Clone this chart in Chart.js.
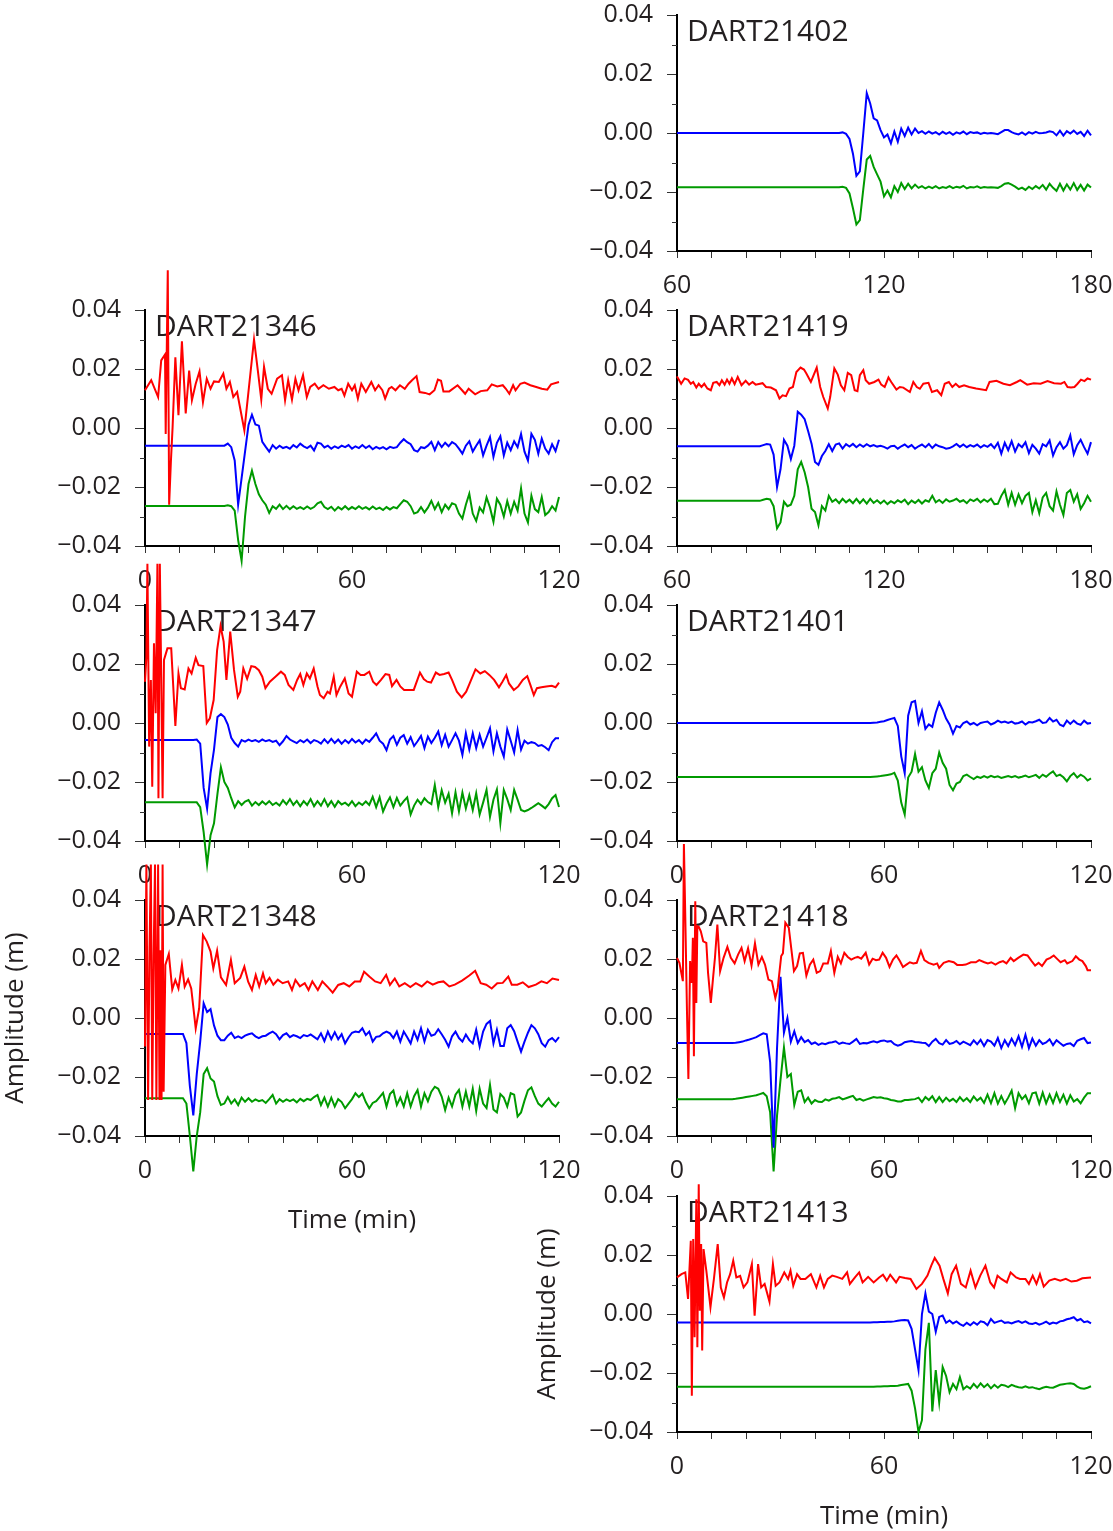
<!DOCTYPE html>
<html>
<head>
<meta charset="utf-8">
<script src="https://cdn.jsdelivr.net/npm/chart.js@4.4.1/dist/chart.umd.min.js"></script>
<style>
  body { margin: 0; background: #fff; width: 1113px; height: 1531px; position: relative; overflow: hidden; }
  canvas { position: absolute; }
</style>
</head>
<body>
<script>
// Values in mm (axis labels shown in m). Blue/green: one value per minute from the panel start.
// Red: [time (min), value] pairs.

// DART21402 (60-180 min)
const b21402 = [
  0,0,0,0,0,0,0,0,0,0, 0,0,0,0,0,0,0,0,0,0, 0,0,0,0,0,0,0,0,0,0, 0,0,0,0,0,0,0,0,0,0,
  0,0,0,0,0,0,0,0, 0.2,-0.3,
  -2,-7,-14.5,-13,0,13.5,10,5,4.3,1,
  -1.5,-0.5,-3.5,0.5,-3,1.5,-1,1.8,-0.5,1.5,
  0,0.6,-0.3,0.5,-0.2,0.3,-0.5,0.4,-0.3,0.3,
  -0.6,0.2,-0.2,0.5,-0.4,0.3,0,0.2,-0.3,0.1,
  -0.2,0,-0.2,-0.4,0.3,1,1,0.3,-0.2,-0.5,
  0.2,-0.6,0.3,-0.2,0.4,-0.1,0,0.2,0.6,0.3,
  -0.8,0.8,-0.9,0.6,-0.2,0.8,-0.3,0.4,-1,0.8,
  -0.8
];
const g21402 = [
  -18.4,-18.4,-18.4,-18.4,-18.4,-18.4,-18.4,-18.4,-18.4,-18.4,
  -18.4,-18.4,-18.4,-18.4,-18.4,-18.4,-18.4,-18.4,-18.4,-18.4,
  -18.4,-18.4,-18.4,-18.4,-18.4,-18.4,-18.4,-18.4,-18.4,-18.4,
  -18.4,-18.4,-18.4,-18.4,-18.4,-18.4,-18.4,-18.4,-18.4,-18.4,
  -18.4,-18.4,-18.4,-18.4,-18.4,-18.4,-18.4,-18.4, -18.2,-18.6,
  -20.5,-25.5,-31,-29.5,-19,-9,-7.8,-11.5,-14,-16.5,
  -21.5,-19.5,-21.8,-18,-20,-17,-19,-17.2,-18.8,-17.5,
  -18.6,-18,-18.8,-18.2,-18.7,-18,-18.8,-18.3,-18.6,-18,
  -18.7,-18.2,-18.5,-17.9,-18.8,-18.3,-18.5,-18.1,-18.6,-18.3,
  -18.5,-18.4,-18.5,-18.6,-18,-17.2,-17,-17.5,-18.2,-19,
  -18.5,-19.3,-18.2,-19,-18,-18.8,-17.6,-19.2,-17.2,-18.6,
  -19.6,-17.2,-19.5,-17.4,-19.2,-17,-19.3,-17.6,-19.5,-17.5,
  -18.5
];

// DART21346 (0-120 min)
const r21346 = [
  [0,12.8],[1.8,16.2],[3.8,10.5],[4.7,22.9],[5.8,24.9],[6,-2],[6.6,53.5],[7,-26],[7.5,-11.5],[8,0.3],
  [8.8,24],[9.7,4.3],[10.7,29.4],[11.8,4.9],[12.8,19.5],[13.6,9.4],[14.7,15],[15.8,19.2],[16.8,8.8],[17.9,16.7],
  [19,13.3],[20,15.8],[21.4,15.6],[22.7,18.4],[23.6,13.3],[24.6,15.6],[25.6,10.5],[26.7,12.2],[28.8,-0.8],[31.6,30],
  [32.7,19.5],[33.7,9.6],[34.5,20.7],[35.6,13.3],[36.7,11.6],[38.3,16.7],[39.7,17.9],[40.6,9.4],[41.5,16.2],[42.6,9.6],
  [43.6,16.7],[44.5,12.8],[45.8,17.9],[46.9,10.5],[47.9,13.9],[49.2,15],[50.3,13.3],[51.7,14.5],[53.3,13.3],[54.9,13.9],
  [56,12.8],[57,13.3],[57.8,11],[58.9,15],[60,12.8],[60.8,14.5],[61.7,10],[62.7,15],[64,12.2],[65.6,15.6],
  [66.7,12.8],[67.7,14.5],[68.8,12.8],[69.6,10],[70.7,13.3],[71.5,13.9],[72.6,12.8],[73.9,14.5],[75.3,13.3],[76.4,15],
  [77.4,16.2],[78.7,17.6],[79.6,12.2],[81.2,11.9],[82.5,11.4],[83.9,12.8],[84.9,16.4],[85.8,16],[86.5,12.4],[88.2,12.4],
  [90.6,14.5],[91.9,12.8],[92.8,11.6],[93.8,13.3],[95.7,11.4],[97.3,12.5],[99.2,12.8],[100.5,14.8],[102.1,14.1],[103.7,14.5],
  [104.6,13.3],[105.6,11.6],[106.7,14.5],[107.4,12.8],[108.8,15],[110,15.4],[111.7,14.5],[113.4,13.9],[115,13.3],[116.6,13],
  [117.7,14.8],[120,15.6]
];
const b21346 = [
  -6,-6,-6,-6,-6,-6,-6,-6,-6,-6, -6,-6,-6,-6,-6,-6,-6,-6,-6,-6, -6,-6,-6,-6,
  -5.3,-6.5,-11,-26,-17,-8,
  1,4.5,1.2,0.8,-4.7,-6.4,-8,-5.8,-7,-6,
  -6.8,-6.4,-7,-5.8,-6.6,-5.3,-6.2,-6.8,-6,-7.6,
  -5,-5.3,-6.6,-6,-7,-6.2,-6.8,-6,-6.5,-5.8,
  -7,-6.2,-6.8,-5.8,-6.8,-6,-7.2,-6.4,-7,-6.5,
  -7.2,-6.4,-6.8,-6.5,-5,-3.8,-4.8,-5.5,-7.5,-8,
  -6.5,-6.8,-6,-4.7,-7.5,-4.8,-6.5,-5,-6.2,-4.8,
  -5.5,-7,-8.7,-6,-4.5,-8,-6,-4.2,-9.3,-6,
  -3.1,-9.8,-5,-2.8,-9.3,-5,-7.5,-4.5,-6.5,-2,
  -8,-11,-2,-4,-8.7,-3.6,-7,-8.7,-5.5,-7.8,
  -4
];
const g21346 = [
  -26.4,-26.4,-26.4,-26.4,-26.4,-26.4,-26.4,-26.4,-26.4,-26.4,
  -26.4,-26.4,-26.4,-26.4,-26.4,-26.4,-26.4,-26.4,-26.4,-26.4,
  -26.4,-26.4,-26.4,-26.4,
  -26.2,-26.5,-28,-38,-45,-30,
  -19,-14.5,-19,-22.5,-24.5,-26,-28.8,-26.5,-27.4,-26,
  -27.5,-26.4,-27.5,-26.5,-27.4,-26.8,-27.5,-26.6,-27.4,-26.8,
  -25.5,-25,-26.8,-27.5,-26.7,-28,-26.8,-27.6,-26.5,-27.6,
  -26.8,-27.5,-26.5,-27.4,-26.8,-27.6,-26.6,-27.5,-27,-27.8,
  -26.8,-27.6,-26.8,-27.2,-25.8,-24.5,-25,-26.5,-29,-28.5,
  -26.8,-28.6,-27,-24.7,-27.5,-25.4,-28.5,-26,-27.5,-25.5,
  -26,-29,-30.7,-26,-22.3,-29,-31.5,-27,-28.6,-23.5,
  -27,-31.8,-24,-26,-30,-24.8,-29,-25,-28,-20.5,
  -29,-32,-23,-27.5,-28.5,-23.4,-29.5,-28.5,-26.5,-28,
  -23.4
];

// DART21419 (60-180 min)
const r21419 = [
  [60,17.5],[61.2,15],[62.2,16.8],[63.2,16.3],[64,15],[64.7,15.6],[65.6,13.7],[66.3,15],[67.1,13.9],[67.9,15],
  [68.8,13.4],[69.8,12.8],[70.5,15.3],[71.5,15.6],[72.3,14.5],[73,16.2],[73.8,14.7],[74.5,16.4],[75.2,15],[75.9,16.8],
  [76.7,14.9],[77.6,17.3],[78.7,14.5],[79.9,16],[80.9,14.7],[81.9,15.6],[82.8,14.7],[84.8,15.2],[85.8,13.9],[87.2,13.7],
  [88.7,12.8],[89.7,10],[90.6,11.1],[91.6,10.8],[92.6,13.4],[93.6,13.9],[94.6,19],[95.8,20.5],[96.8,19.8],[97.5,18.5],
  [98.8,15.6],[100.5,20.5],[101.5,13.9],[102.4,10.5],[103.7,6.6],[104.4,10.5],[105.6,20.2],[106.6,18.1],[107.5,14.5],[108.5,12.8],
  [109.5,18.7],[110.5,17.9],[111.5,12.8],[112.3,12.5],[113,17.9],[114,19.6],[114.7,16.2],[115.7,15],[117.2,15.6],[118.4,16.4],
  [119.2,14.7],[120.2,13.9],[121.3,17.1],[122.1,15.6],[123.6,13],[124.6,13.9],[125.6,13.7],[127.5,12.2],[128.5,15.6],[129.5,13.9],
  [130.4,13.3],[131.4,15],[132.9,15.3],[133.9,12.2],[135.4,12.8],[136.6,11.1],[137.6,15],[138.8,15.6],[139.8,13.9],[140.8,15],
  [141.8,13.9],[143.2,14.5],[144.7,13.9],[146.7,13.4],[149.6,12.8],[150.6,15.6],[152.6,16],[154.6,15],[156.5,14.5],[158.5,15.6],
  [159.5,16.2],[161.5,14.7],[163.4,15.2],[165.4,15],[167.4,15.9],[169.3,15.2],[171.3,15],[172.3,15.6],[173.2,13.9],[174.2,13.7],
  [175.2,13.9],[176.1,15],[177.1,16.4],[178.1,15.9],[179,16.8],[180,16.4]
];
const b21419 = [
  -6.2,-6.2,-6.2,-6.2,-6.2,-6.2,-6.2,-6.2,-6.2,-6.2,
  -6.2,-6.2,-6.2,-6.2,-6.2,-6.2,-6.2,-6.2,-6.2,-6.2,
  -6.2,-6.2,-6.2,-6.2,-6.2,
  -5.8,-5.4,-5.6,-9,-20,
  -14,-4,-6,-10.5,-6,5.5,4.5,3,-1,-5.3,
  -11.5,-12.5,-9.5,-7.8,-5.5,-7.8,-5.6,-5.2,-7,-5.5,
  -6.3,-5.4,-6.5,-5.6,-6.4,-5.5,-6.2,-5.8,-6.3,-6,
  -6.4,-7,-6.2,-6,-7,-6.2,-5.6,-6.5,-5.8,-7,
  -6.2,-5.6,-6.5,-5.4,-6.8,-5.6,-6.2,-6.5,-7,-6.8,
  -6.2,-5.4,-6.4,-5.6,-6.5,-5.8,-6.3,-5.6,-6.6,-5.8,
  -6.4,-5.5,-6.8,-5,-8.7,-5,-7.5,-4.5,-8,-5.5,
  -6.5,-4.8,-8.5,-5.7,-7,-8.7,-5.5,-6.2,-4.2,-9.3,
  -6.5,-4.8,-7,-5.8,-2.5,-8.9,-5.8,-4,-6.5,-8.7,
  -4.8
];
const g21419 = [
  -24.7,-24.7,-24.7,-24.7,-24.7,-24.7,-24.7,-24.7,-24.7,-24.7,
  -24.7,-24.7,-24.7,-24.7,-24.7,-24.7,-24.7,-24.7,-24.7,-24.7,
  -24.7,-24.7,-24.7,-24.7,-24.7,
  -24.3,-24,-24.2,-26.5,-34,
  -32,-25,-26.5,-26,-23,-14,-11.5,-15,-20,-27.4,
  -28.5,-33,-26.5,-28,-23,-25,-24.2,-25.5,-24,-25.2,
  -24.3,-25.5,-24,-25.5,-24.2,-25.6,-24,-25.4,-24.5,-25.6,
  -24.6,-25.8,-24.8,-25.5,-24.5,-25.2,-24.3,-25.8,-24.6,-25.4,
  -24.4,-25.6,-24.5,-25,-23,-25.2,-24.4,-25.4,-24.2,-25,
  -24.6,-24,-25,-24.5,-25.5,-24.2,-24.8,-24,-25.2,-24.2,
  -25,-24,-25.8,-25.7,-23,-21,-26,-22,-26,-22.5,
  -25.5,-23,-22,-28.5,-24.5,-28.9,-23.5,-22,-26.5,-28,
  -21.5,-26,-29.5,-22,-21,-25,-22.5,-27.4,-25.5,-23,
  -25
];

// DART21347 (0-120 min)
const r21347 = [
  [0,14],[0.4,22.5],[0.7,54],[1.2,-8],[1.7,14.6],[2.1,-21.6],[2.6,27],[3.1,3.3],[3.6,54],[3.9,-25.5],
  [4.3,54],[4.7,15.7],[5.1,-25.5],[5.5,21.4],[6.5,25.3],[7.6,25.3],[8.8,-1],[9.7,16.8],[10.4,11.8],[11.5,11.4],
  [12.6,18.5],[13.5,16.8],[14.7,22.1],[15.5,19.6],[16.9,19.3],[17.9,0],[18.8,1.6],[19.9,7.8],[20.9,24.7],[21.9,32.9],
  [22.8,27.6],[23.6,14.6],[24.7,31],[25.8,18],[26.9,8.9],[27.6,10.6],[28.5,18.5],[29.6,15],[30.8,19.3],[31.9,19],
  [33,17.9],[34,15.7],[34.9,11.8],[36.2,14],[37.8,15.7],[39.4,17.4],[40.5,16.3],[41.6,12.9],[43,11.2],[44.1,14.6],
  [45,16.6],[45.9,12.9],[46.9,16.8],[47.8,15.1],[48.9,18.5],[50,12.4],[50.7,9.5],[51.8,8.4],[52.9,10.6],[53.6,10],
  [54.7,15.7],[55.5,9.5],[56.6,12.4],[57.9,15.1],[59,10],[60,8.9],[61.4,17.4],[62.5,16.3],[63.6,16.3],[65,17.4],
  [66.1,14],[67.1,12.9],[68.4,14.6],[69.7,16.6],[70.8,16.3],[71.6,12.5],[72.9,14.6],[74,12.4],[75.1,11.2],[76.5,11.2],
  [77.9,11.2],[79.7,17.1],[80.8,14.9],[81.8,14],[82.9,13.7],[84.3,17.1],[85.4,16.3],[86.7,16.6],[88,17.1],[89,14.6],
  [90.4,10.6],[91.8,8.7],[93.1,10.6],[94.2,13.7],[95.8,18.2],[97.2,16.8],[98.5,17.6],[99.8,16.3],[101.2,14.6],[102.6,12.1],
  [103.6,14],[104.7,16.3],[105.5,13.4],[106.9,11.2],[108.2,12.4],[109.5,14.6],[110.8,15.9],[111.7,12.9],[112.7,9.5],[113.6,11.8],
  [114.9,12.1],[116.3,12.4],[117.9,12.6],[119,12.1],[120,13.7]
];
const b21347 = [
  -5.8,-5.8,-5.8,-5.8,-5.8,-5.8,-5.8,-5.8,-5.8,-5.8, -5.8,-5.8,-5.8,-5.8,-5.8,
  -5.6,-7,-22,-29,-17,
  -9,2,3,2,-0.5,-5,-6.8,-8,-5.8,-6.3,
  -5.6,-6.2,-5.8,-6.4,-5.6,-6.2,-5.8,-6.4,-6,-7.5,
  -6.2,-4.4,-5.6,-6.2,-6.8,-5.8,-6.5,-5.6,-6.8,-5.8,
  -6.2,-7,-5.5,-6.8,-5.4,-6.8,-5.6,-7,-5.8,-6.8,
  -5.4,-6.6,-5.8,-7,-5.6,-6.4,-5,-3.5,-6,-7,
  -9.2,-5.6,-4.4,-7.4,-5,-4.1,-7,-4.8,-7.8,-6.2,
  -4.4,-8.5,-4.6,-6.8,-5,-2.9,-7.5,-4,-8,-5.8,
  -3.5,-6,-10.8,-3.5,-9,-3.5,-8.5,-4,-8,-5,
  -1.8,-9.6,-3.5,-8,-11.4,-2.2,-6,-10,-2.4,-9,
  -6,-7,-6.5,-6.8,-7.8,-7.5,-8.2,-9.2,-6.5,-5.2,
  -5.2
];
const g21347 = [
  -26.9,-26.9,-26.9,-26.9,-26.9,-26.9,-26.9,-26.9,-26.9,-26.9,
  -26.9,-26.9,-26.9,-26.9,-26.9,-26.9,
  -28.5,-37,-48,-38,
  -34,-24,-15,-20,-22,-25.5,-28.6,-26.5,-27.8,-26.6,
  -26.1,-28,-26.8,-27.8,-26.6,-27.6,-26.5,-27.8,-27,-28,
  -26.2,-27.6,-25.8,-27.8,-26.4,-28.2,-26.5,-27.8,-25.8,-28.2,
  -26.5,-28,-25.8,-28.2,-26.5,-28.4,-26.5,-27.6,-27,-28,
  -26.5,-28.2,-27,-27.8,-26.6,-27.8,-25,-28.5,-25.2,-30,
  -27.3,-25.2,-28.5,-25.4,-28,-26.5,-25.2,-31,-28,-26,
  -27.5,-25.5,-26.8,-27.5,-21,-28.5,-22.8,-27,-24,-30.6,
  -23.5,-30,-23.6,-29,-24.5,-29.5,-23.8,-31,-27,-22.7,
  -31.8,-26,-22.5,-34,-22.7,-25.8,-29.5,-22.7,-26,-29.5,
  -30,-29.5,-28.8,-28,-27.2,-28,-28.9,-27.5,-25.5,-24.4,
  -28.5
];

// DART21401 (0-120 min)
const b21401 = [
  0,0,0,0,0,0,0,0,0,0, 0,0,0,0,0,0,0,0,0,0, 0,0,0,0,0,0,0,0,0,0,
  0,0,0,0,0,0,0,0,0,0, 0,0,0,0,0,0,0,0,0,0, 0,0,0,0,0,0,0,
  0.1,0.2,0.4,
  0.6,1,1.4,1.7,-1,-11.3,-17,2.5,7,7.5,
  0,4,-2,-0.5,-1.3,3.5,7,4.5,1.5,-0.5,
  -3.6,-1,-1.5,0,0.5,-0.5,0,-0.8,0,0.3,
  0.5,-0.5,0,0.8,0.2,0.5,0,0.5,-0.2,0,
  0.5,-0.5,0.3,0.2,0.6,1.1,0,0.2,1.7,0.5,
  1.1,-0.6,-1.1,0.8,-0.3,0.8,-0.2,-0.6,0.8,-0.2,
  0
];
const g21401 = [
  -18.3,-18.3,-18.3,-18.3,-18.3,-18.3,-18.3,-18.3,-18.3,-18.3,
  -18.3,-18.3,-18.3,-18.3,-18.3,-18.3,-18.3,-18.3,-18.3,-18.3,
  -18.3,-18.3,-18.3,-18.3,-18.3,-18.3,-18.3,-18.3,-18.3,-18.3,
  -18.3,-18.3,-18.3,-18.3,-18.3,-18.3,-18.3,-18.3,-18.3,-18.3,
  -18.3,-18.3,-18.3,-18.3,-18.3,-18.3,-18.3,-18.3,-18.3,-18.3,
  -18.3,-18.3,-18.3,-18.3,-18.3,-18.3,-18.3,
  -18.2,-18.1,-18,
  -17.8,-17.6,-17.4,-16.9,-19.5,-27,-31,-18.5,-16.5,-10.5,
  -16.5,-15,-19.5,-22,-17,-15.5,-10,-13.5,-15.5,-21,
  -22.8,-20.5,-20,-18,-17.5,-18.3,-19,-18.2,-18.6,-18,
  -18.5,-17.9,-18.4,-18.1,-18.6,-18.3,-18,-18.4,-18,-18.5,
  -18.2,-17.8,-18.4,-18,-17.6,-18.6,-17.5,-18.2,-17.2,-16.4,
  -18,-17.5,-18.4,-19.8,-18,-17,-18.5,-17.5,-18.2,-19.5,
  -18.8
];

// DART21348 (0-120 min)
const r21348 = [
  [0,-9.7],[0.4,52],[0.9,-27.8],[1.3,23],[1.7,52],[2.1,-27.8],[2.5,21],[2.9,52],[3.3,-27.8],[3.8,52],
  [4.2,-27.8],[4.5,23],[4.8,-27.8],[5.1,52],[5.4,-25],[5.9,18],[6.9,21.7],[7.9,9.7],[8.8,12.9],[9.7,10],
  [10.7,18],[11.5,10.6],[12.5,13.1],[13.4,10],[14.7,-3.5],[15.7,3.3],[16.8,28.1],[17.9,25.9],[19,22.5],[19.8,16.8],
  [20.9,22.8],[22,13.8],[23.5,11.2],[24.9,19.7],[26,11.8],[27.6,13.6],[28.8,17.4],[29.9,12.3],[31,9.5],[32.1,14.6],
  [33.1,10.7],[34.2,15.1],[35,11.8],[36.1,13.6],[37.2,11.3],[38.5,13],[39.9,11.8],[41.5,12.4],[42.6,9.5],[43.6,12.9],
  [44.9,10.7],[46.3,11.8],[47.4,9.5],[48.5,12.4],[50.1,9.5],[51.4,12.4],[52.8,10.7],[54.4,8.6],[56,11.2],[57.6,11.8],
  [59.2,10.7],[60.8,12.4],[62.4,12.4],[63.5,15.7],[65.1,14],[66.7,12.4],[68.3,11.8],[69.9,14.6],[71,11.2],[72.4,13.4],
  [73.7,10.7],[75.3,11.8],[76.9,10.5],[78.5,11.8],[80.2,10.7],[81.8,12.4],[83.4,11.3],[85,12.1],[86.5,12.4],[88.2,10.7],
  [89.8,11.3],[91.9,12.7],[94,14.4],[95.7,16],[97.3,11.8],[98.9,11.3],[100.5,10],[102.1,11.8],[103.7,11.9],[105.3,14],
  [106.3,11.3],[107.9,11.3],[109.5,12.1],[111.2,10.5],[113.3,11.3],[114.9,12.4],[116.5,11.8],[118.1,13.4],[120,12.9]
];
const b21348 = [
  -5.4,-5.4,-5.4,-5.4,-5.4,-5.4,-5.4,-5.4,-5.4,-5.4, -5.4,-5.4,
  -8.5,-23,-33,-19,-8,5,2,3,
  -2.5,-6,-7.5,-7.5,-6,-5,-6.8,-6.2,-6.8,-6,
  -5.5,-5.2,-6.2,-6.8,-6.2,-6,-5.2,-4.6,-5.5,-7.2,
  -5.8,-5.2,-6.5,-5.8,-6.2,-6.8,-5.8,-6.2,-5.6,-6.4,
  -7.2,-5.2,-7.8,-4.6,-7.2,-4.8,-7.2,-5.5,-8.6,-6.6,
  -5,-4.6,-4.8,-3.5,-5.8,-4.6,-8,-6.4,-6.2,-5.2,
  -4.6,-5.2,-6.8,-4.6,-8,-4.6,-6.5,-8.6,-4.6,-7.4,
  -3.5,-8,-4,-6,-5.6,-3.8,-5.5,-7.4,-9.7,-6.2,
  -4.6,-6.8,-8,-5.6,-7.5,-8.6,-4,-9.7,-4.6,-2,
  -1,-8.6,-4,-9.5,-9.5,-3.5,-2.4,-4.5,-8,-11.4,
  -8,-5,-2.4,-3.5,-5.5,-8.5,-9.7,-7.5,-6.8,-8,
  -6.5
];
const g21348 = [
  -27.2,-27.2,-27.2,-27.2,-27.2,-27.2,-27.2,-27.2,-27.2,-27.2, -27.2,-27.2,
  -29,-40,-52,-40,-32,-19,-17,-20.5,
  -21.5,-26.5,-29.5,-29,-26.8,-29,-27.6,-29.5,-27,-28.4,
  -27.2,-28.4,-27.6,-28.2,-27.8,-28.8,-27.5,-26.1,-29,-27.5,
  -28.4,-27.6,-28.2,-27.6,-28.6,-27.4,-28.2,-27.4,-27.8,-26.8,
  -26.1,-29.5,-27,-30,-27,-30,-27.5,-28.5,-30.6,-29,
  -27.5,-25.5,-26.8,-25.6,-28.5,-30.6,-28.8,-28.2,-26.8,-25.4,
  -30,-25.8,-24.6,-29.5,-27,-30,-25.5,-30,-26.5,-24.4,
  -30,-25.5,-28.2,-25,-23.3,-24,-26.6,-31.2,-27,-30,
  -26,-24.4,-30,-25,-30,-24,-31.5,-24,-29,-30.5,
  -22.7,-31,-32,-25.8,-27,-30,-25.5,-26,-33.4,-32,
  -28,-24.5,-23.5,-26.5,-29,-30,-28.5,-27.2,-29,-30,
  -28.4
];

// DART21418 (0-120 min)
const r21418 = [
  [0,20.4],[0.7,18.7],[1.7,12.5],[2,59],[2.4,34.5],[2.9,1.7],[3.3,-20.7],[3.8,19.3],[4.3,11.9],[4.6,27.2],
  [4.9,-13],[5.3,39.6],[5.6,5.1],[5.9,31.1],[6.3,30.9],[6.9,29.4],[7.6,26],[8.5,25.5],[9,15.3],[9.8,5.1],
  [10.5,14.2],[11,20.4],[11.7,31.7],[12.5,15.9],[13.5,20.4],[14.6,24.1],[15.6,20.4],[16.7,18.5],[17.7,21.5],[18.7,23.8],
  [19.6,19.3],[20.6,23.6],[21.6,17.8],[22.6,25.3],[23.6,18.1],[24.6,20.7],[25.5,18.1],[26.5,13],[27.5,12.5],[28.5,6.8],
  [29.2,10.2],[30.2,21],[30.7,21.9],[31.4,32.3],[32.4,30.6],[33.1,23.8],[33.9,15.9],[34.8,17.6],[35.6,21.9],[36.5,22.1],
  [37.5,14.4],[38.5,18.1],[39.5,19.8],[40.5,15.3],[41.5,15.9],[42.4,18.5],[43.7,18.5],[44.6,22.7],[45.6,15.3],[46.6,20.7],
  [47.5,18.5],[48.5,22.1],[49.5,20.7],[50.5,19.8],[51.5,20.4],[52.4,20.7],[53.4,20.1],[54.7,22.1],[55.7,18.1],[56.7,20.1],
  [57.7,19.6],[58.6,19.8],[59.6,22.1],[60.6,20.4],[61.6,17.3],[62.6,19.8],[63.6,21.2],[64.6,19.3],[65.5,17.3],[66.5,18.1],
  [67.5,18.9],[68.5,18.5],[69.5,18.7],[70.7,22.7],[71.7,19.6],[72.9,18.7],[74.4,18.1],[75.4,18.5],[76,17],[77.3,18.7],
  [78.8,19.3],[80.2,18.9],[81.2,18],[82.7,18],[83.7,18.1],[85.2,18.9],[86.6,18.9],[87.6,19.6],[89.1,18.9],[90.1,18.5],
  [91.1,18.9],[92.3,18.1],[93.5,18.9],[94.5,19.3],[95.5,18.5],[96.7,20.4],[97.6,19.3],[98.9,20.4],[100.4,21.5],[101.6,21.2],
  [102.8,19.3],[103.8,17.8],[104.8,18.7],[105.8,17.6],[107.1,19.8],[108.2,20.4],[109.2,21.2],[110.4,19.8],[111.2,18.9],[112.4,19.6],
  [113.1,18.5],[114.6,19.3],[115.6,20.9],[116.6,19.8],[117.5,19.3],[118.5,17.6],[119,16.2],[120,16.2]
];
const b21418 = [
  -8.5,-8.5,-8.5,-8.5,-8.5,-8.5,-8.5,-8.5,-8.5,-8.5, -8.5,-8.5,-8.5,-8.5,-8.5,-8.5,-8.5,
  -8.4,-8.2,-8,
  -7.6,-7.3,-6.9,-6.5,-5.8,-5.2,-5.5,-15,-44,-10,
  14,-5,0,-8,-4.5,-8.5,-6.5,-8.2,-7.5,-8.8,
  -8.3,-9.1,-8.6,-8.9,-8.4,-8.2,-7.9,-8.8,-8.3,-8.6,
  -8.8,-8,-7.1,-8.8,-8.5,-8.6,-8.2,-7.9,-8.3,-7.8,
  -7.6,-8,-7.8,-8.9,-9.4,-9,-8.2,-8,-7.8,-8.1,
  -8.2,-8.4,-8.5,-9.5,-8,-7.1,-8.5,-9,-7.5,-8.8,
  -8.5,-7.8,-8.9,-8,-8.6,-9.2,-7.6,-8.9,-7.4,-9.5,
  -7.5,-8,-9.4,-6.8,-10.2,-7.5,-9.5,-7,-9.2,-6.2,
  -9.8,-5.7,-10.2,-7,-9.4,-7.5,-8.8,-8.3,-7.2,-9.2,
  -7.5,-8.5,-9.4,-8.8,-8.6,-9.5,-7.7,-7.2,-6.8,-8.5,
  -8.3
];
const g21418 = [
  -27.5,-27.5,-27.5,-27.5,-27.5,-27.5,-27.5,-27.5,-27.5,-27.5,
  -27.5,-27.5,-27.5,-27.5,-27.5,-27.5,-27.5,
  -27.4,-27.2,-27,
  -26.8,-26.6,-26.4,-26.2,-25.8,-25.4,-26.5,-32,-52,-33,
  -21,-10,-20,-19,-29.5,-25,-24.5,-28.5,-27,-29,
  -27.8,-28.4,-28.5,-27.6,-28,-27.4,-27.2,-26.8,-27.6,-27.2,
  -26.8,-26.4,-27.8,-27.4,-28,-27.6,-27.2,-26.8,-27,-26.9,
  -27.2,-27.4,-27.8,-28,-28.3,-28.3,-27.8,-27.8,-27.6,-27.5,
  -27,-28.5,-26.8,-27.8,-26.5,-28.5,-26.8,-28.5,-27,-28.2,
  -27.4,-28.5,-26.8,-28.2,-27.2,-28.5,-26.6,-28,-27,-28.8,
  -26,-28.9,-25.5,-29,-26.5,-29,-27,-24.6,-30.6,-25.5,
  -27.5,-26.2,-28.9,-25.5,-25.2,-29,-25.3,-28.9,-26,-28.8,
  -25.5,-28.5,-26,-29,-26.2,-28.3,-27.5,-28.9,-27,-25.5,
  -25.5
];

// DART21413 (0-120 min)
const r21413 = [
  [0,12.4],[1.3,13.5],[2.4,14.1],[3.2,5.1],[4,24.8],[4.3,-27.7],[4.7,25.4],[5.1,-7.9],[5.6,38.9],[5.9,-11.3],
  [6.3,44],[6.6,1.1],[7,23.7],[7.3,-12.4],[7.7,22],[8.5,14.7],[9.7,2.3],[10.7,11.9],[11.8,23.7],[12.7,9],
  [13.6,5.6],[14.5,10.7],[15.4,13.5],[16.3,18.1],[17.2,12.4],[18.3,12.9],[19.3,9],[20.4,10.7],[21.7,16.9],[22.5,-0.6],
  [23.5,16.9],[24.4,9],[25.4,10.2],[26.8,4.2],[27.8,16.9],[28.6,9.6],[29.7,10.7],[31.1,14.1],[32.2,11.9],[32.9,14.7],
  [33.7,9.6],[34.8,13.5],[35.8,11.9],[37.2,11.9],[38.8,13.5],[40.4,9],[41.5,13],[42.6,9],[43.7,11.9],[45,13],
  [46.3,12.6],[47.9,11.9],[49.3,14.1],[50.1,10.2],[51.7,12.6],[52.8,14.1],[53.8,10.7],[55.4,12.6],[57,10.7],[58.6,12.4],
  [59.7,13.3],[60.8,11.3],[61.8,13.3],[63.5,10.7],[64.5,12.6],[66.1,12.2],[67.7,11.9],[69.4,8.5],[71,10.2],[72.6,13],
  [73.7,16.4],[74.7,19],[76.1,16.4],[77.2,11.9],[78.5,7],[79.6,13.5],[80.9,16.4],[82.3,10.2],[83.7,9],[85.1,14.7],
  [86.5,9],[87.9,13],[89.4,16.4],[90.8,10.7],[91.9,9],[92.9,13],[94,11.9],[95.6,10.7],[96.7,14.1],[98.3,12.4],
  [99.4,11.9],[101,11.9],[102,10.2],[103.1,13],[104.2,10.2],[105.2,13.5],[106.3,9.3],[107.9,11.3],[109.5,11.9],[111.1,11.3],
  [112.7,11.9],[114.3,11],[115.9,11.3],[117.5,12.1],[120,12.4]
];
const b21413 = [
  -2.9,-2.9,-2.9,-2.9,-2.9,-2.9,-2.9,-2.9,-2.9,-2.9,
  -2.9,-2.9,-2.9,-2.9,-2.9,-2.9,-2.9,-2.9,-2.9,-2.9,
  -2.9,-2.9,-2.9,-2.9,-2.9,-2.9,-2.9,-2.9,-2.9,-2.9,
  -2.9,-2.9,-2.9,-2.9,-2.9,-2.9,-2.9,-2.9,-2.9,-2.9,
  -2.9,-2.9,-2.9,-2.9,-2.9,-2.9,-2.9,-2.9,-2.9,-2.9,
  -2.9,-2.9,-2.9,-2.9,-2.9,-2.9,
  -2.9,-2.8,-2.8,-2.7,
  -2.7,-2.6,-2.6,-2.5,-2.3,-2.1,-2,-2.2,-5,-12,
  -19,0,7,0.8,0,-6,-1,-0.5,-3,-2.2,
  -3.2,-2.5,-3.4,-4,-3,-3.8,-2.8,-3.6,-2.5,-2.8,
  -3.8,-1.7,-3,-2.6,-2.2,-3,-2.8,-3.2,-2.7,-2.4,
  -3,-2.5,-3.2,-3.4,-3,-3.6,-3.2,-2.6,-3.4,-2.9,
  -3.2,-2.5,-2.3,-1.8,-1.5,-1.1,-2.2,-1.7,-2.8,-2.5,
  -3.2
];
const g21413 = [
  -24.7,-24.7,-24.7,-24.7,-24.7,-24.7,-24.7,-24.7,-24.7,-24.7,
  -24.7,-24.7,-24.7,-24.7,-24.7,-24.7,-24.7,-24.7,-24.7,-24.7,
  -24.7,-24.7,-24.7,-24.7,-24.7,-24.7,-24.7,-24.7,-24.7,-24.7,
  -24.7,-24.7,-24.7,-24.7,-24.7,-24.7,-24.7,-24.7,-24.7,-24.7,
  -24.7,-24.7,-24.7,-24.7,-24.7,-24.7,-24.7,-24.7,-24.7,-24.7,
  -24.7,-24.7,-24.7,-24.7,-24.7,-24.7,
  -24.7,-24.7,-24.6,-24.6,
  -24.5,-24.5,-24.4,-24.4,-24.3,-24.1,-23.9,-23.7,-26,-32,
  -40,-36,-12,-3,-33,-19,-30,-18,-21,-26.5,
  -23.7,-25.5,-21.4,-25.5,-24.5,-25.3,-23.7,-25,-23.5,-24.8,
  -23.8,-25.2,-24,-25,-24,-24.2,-24.8,-24,-24.5,-24.8,
  -25,-24.5,-25,-24.8,-25.2,-25.5,-25,-24.7,-24.9,-25,
  -24.5,-24,-23.8,-23.6,-23.5,-23.7,-24.6,-25.2,-25.3,-25,
  -24.5
];

// axis ticks (mm) and labels
const yMajor = [-40, -20, 0, 20, 40];
const yMinor = [-30, -10, 10, 30];
const xLabelEvery = 60;

// page layout
const colLeft = [145, 677];
const rowTop = [15, 310, 605, 900, 1196];
const plotW = 414, plotH = 236;
const padTop = 60, padRight = 45, yAxisW = 145, belowPlot = 110;

const panels = [
  { name: 'DART21402', col: 1, row: 0, t0: 60, red: null,   blue: b21402, green: g21402 },
  { name: 'DART21346', col: 0, row: 1, t0: 0,  red: r21346, blue: b21346, green: g21346 },
  { name: 'DART21419', col: 1, row: 1, t0: 60, red: r21419, blue: b21419, green: g21419 },
  { name: 'DART21347', col: 0, row: 2, t0: 0,  red: r21347, blue: b21347, green: g21347 },
  { name: 'DART21401', col: 1, row: 2, t0: 0,  red: null,   blue: b21401, green: g21401 },
  { name: 'DART21348', col: 0, row: 3, t0: 0,  red: r21348, blue: b21348, green: g21348, titles: true },
  { name: 'DART21418', col: 1, row: 3, t0: 0,  red: r21418, blue: b21418, green: g21418 },
  { name: 'DART21413', col: 1, row: 4, t0: 0,  red: r21413, blue: b21413, green: g21413, titles: true }
];

const ink = '#231f20';
const FONT = '"Open Sans", "Noto Sans", sans-serif';

function fmtY(v) {
  const s = (v / 1000).toFixed(2);
  return s.replace('-', '\u2212');
}

// short minor ticks on the y axis
const minorTicks = {
  id: 'minorTicks',
  afterDraw(chart) {
    const ys = chart.scales.y, ctx = chart.ctx, x0 = chart.chartArea.left;
    ctx.save();
    ctx.strokeStyle = '#333';
    ctx.lineWidth = 1;
    yMinor.forEach(v => {
      const py = Math.round(ys.getPixelForValue(v)) + 0.5;
      ctx.beginPath();
      ctx.moveTo(x0 - 5, py);
      ctx.lineTo(x0, py);
      ctx.stroke();
    });
    ctx.restore();
  }
};

// station name inside the plot, under the traces
const panelLabel = {
  id: 'panelLabel',
  beforeDatasetsDraw(chart, args, opts) {
    const ctx = chart.ctx, a = chart.chartArea;
    ctx.save();
    ctx.font = '30px ' + FONT;
    ctx.fillStyle = ink;
    ctx.textBaseline = 'alphabetic';
    ctx.fillText(opts.text, a.left + 10, a.top + 26);
    ctx.restore();
  }
};

function line(data, color) {
  return {
    data: data, borderColor: color, borderWidth: 2, pointRadius: 0,
    tension: 0, fill: false, clip: false
  };
}

panels.forEach(p => {
  const canvas = document.createElement('canvas');
  const w = yAxisW + plotW + padRight;
  const h = padTop + plotH + belowPlot;
  canvas.width = w;
  canvas.height = h;
  canvas.style.left = (colLeft[p.col] - yAxisW) + 'px';
  canvas.style.top = (rowTop[p.row] - padTop) + 'px';
  canvas.style.width = w + 'px';
  canvas.style.height = h + 'px';
  document.body.appendChild(canvas);

  const datasets = [];
  if (p.red) datasets.push(line(p.red.map(d => ({ x: d[0], y: d[1] })), '#ff0000'));
  datasets.push(line(p.blue.map((v, i) => ({ x: p.t0 + i, y: v })), '#0000ff'));
  datasets.push(line(p.green.map((v, i) => ({ x: p.t0 + i, y: v })), '#009a00'));

  const xH = p.titles ? 100 : 70;

  new Chart(canvas, {
    type: 'line',
    data: { datasets: datasets },
    plugins: [minorTicks, panelLabel],
    options: {
      responsive: false,
      animation: false,
      events: [],
      layout: { padding: { left: 0, top: padTop, right: padRight, bottom: belowPlot - xH } },
      plugins: {
        legend: { display: false },
        tooltip: { enabled: false },
        panelLabel: { text: p.name }
      },
      scales: {
        x: {
          type: 'linear',
          min: p.t0,
          max: p.t0 + 120,
          afterFit(s) { s.height = xH; },
          ticks: {
            stepSize: 10,
            autoSkip: false,
            maxRotation: 0,
            padding: 13,
            color: ink,
            font: { family: FONT, size: 25 },
            callback: v => (v % xLabelEvery === 0 ? String(v) : '')
          },
          grid: { drawOnChartArea: false, tickLength: 7, tickColor: '#333', tickWidth: 1 },
          border: { display: true, color: '#000', width: 2 },
          title: {
            display: !!p.titles, text: 'Time (min)', color: ink,
            font: { family: FONT, size: 26 }, padding: 0
          }
        },
        y: {
          min: -40,
          max: 40,
          afterFit(s) { s.width = yAxisW; },
          afterBuildTicks(s) { s.ticks = yMajor.map(v => ({ value: v })); },
          ticks: {
            padding: 14,
            color: ink,
            font: { family: FONT, size: 25 },
            callback: v => fmtY(v)
          },
          grid: { drawOnChartArea: false, tickLength: 10, tickColor: '#333', tickWidth: 1 },
          border: { display: true, color: '#000', width: 2 },
          title: {
            display: !!p.titles, text: 'Amplitude (m)', color: ink,
            font: { family: FONT, size: 26 }, padding: 0
          }
        }
      }
    }
  });
});
</script>
</body>
</html>
